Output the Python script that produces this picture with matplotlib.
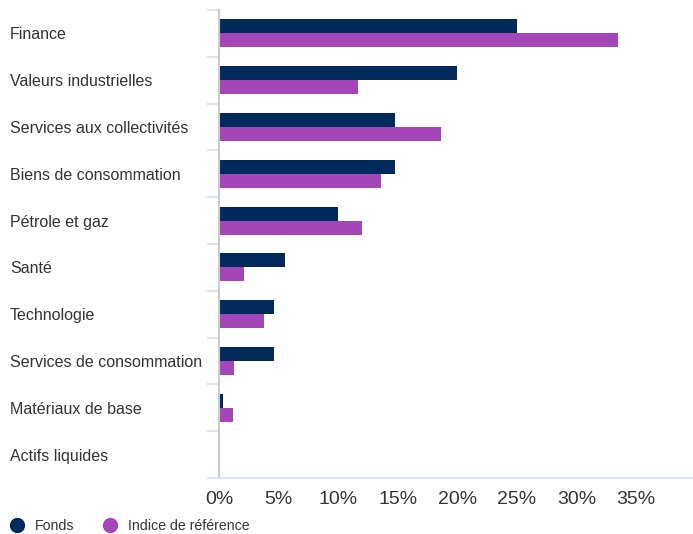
import numpy as np
import matplotlib
matplotlib.use("Agg")
from matplotlib import pyplot as plt
from matplotlib.lines import Line2D

# data (% weights)
categories = ["Finance", "Valeurs industrielles", "Services aux collectivités",
              "Biens de consommation", "Pétrole et gaz", "Santé", "Technologie",
              "Services de consommation", "Matériaux de base", "Actifs liquides"]
fonds = [25.0, 20.0, 14.8, 14.8, 10.0, 5.5, 4.6, 4.6, 0.35, 0.1]
indice = [33.5, 11.7, 18.6, 13.6, 12.0, 2.1, 3.8, 1.3, 1.2, 0.0]
xticks = [0, 5, 10, 15, 20, 25, 30, 35]
xticklabels = ["0%", "5%", "10%", "15%", "20%", "25%", "30%", "35%"]

navy = "#00295c"
purple = "#a546b8"
text_col = "#333333"

plt.rcParams['font.family'] = ['Liberation Sans', 'DejaVu Sans']

fig = plt.figure(figsize=(6.93, 5.34), dpi=100)
ax = fig.add_axes([219 / 693, 1 - 478 / 534, 1 - 219 / 693, (478 - 10) / 534])

y = np.arange(len(categories))
h = 0.3
ax.barh(y - h / 2, fonds, height=h, color=navy, label="Fonds")
ax.barh(y + h / 2, indice, height=h, color=purple, label="Indice de référence")

ax.set_xlim(0, 39.8)
ax.set_ylim(len(categories) - 0.5, -0.5)

ax.set_xticks(xticks)
ax.set_xticklabels(xticklabels)
ax.tick_params(axis='x', length=0, pad=9, labelsize=14, labelcolor=text_col)

ax.set_yticks(y)
ax.set_yticklabels(categories, ha='left', va='center_baseline')
ax.tick_params(axis='y', which='major', length=0, pad=150.5, labelsize=11.5, labelcolor=text_col)
ax.set_yticks(np.arange(-0.5, len(categories), 1.0), minor=True)
ax.tick_params(axis='y', which='minor', length=8.6, width=1.5, color="#dde3ef")

for s in ['top', 'right']:
    ax.spines[s].set_visible(False)
ax.spines['left'].set_color("#cccccc")
ax.spines['left'].set_linewidth(1.5)
ax.spines['bottom'].set_color("#dde3ef")
ax.spines['bottom'].set_linewidth(1.5)

handles = [Line2D([], [], marker='o', ls='none', color=navy, markersize=10),
           Line2D([], [], marker='o', ls='none', color=purple, markersize=10)]
fig.legend(handles, ["Fonds", "Indice de référence"], loc='center left',
           bbox_to_anchor=(8.4 / 693, 1 - 526 / 534), ncol=2, frameon=False,
           fontsize=10.2, borderpad=0, borderaxespad=0, handlelength=1.2,
           handletextpad=0.66, columnspacing=1.9, labelcolor=text_col)

fig.savefig("out.png", dpi=100)
